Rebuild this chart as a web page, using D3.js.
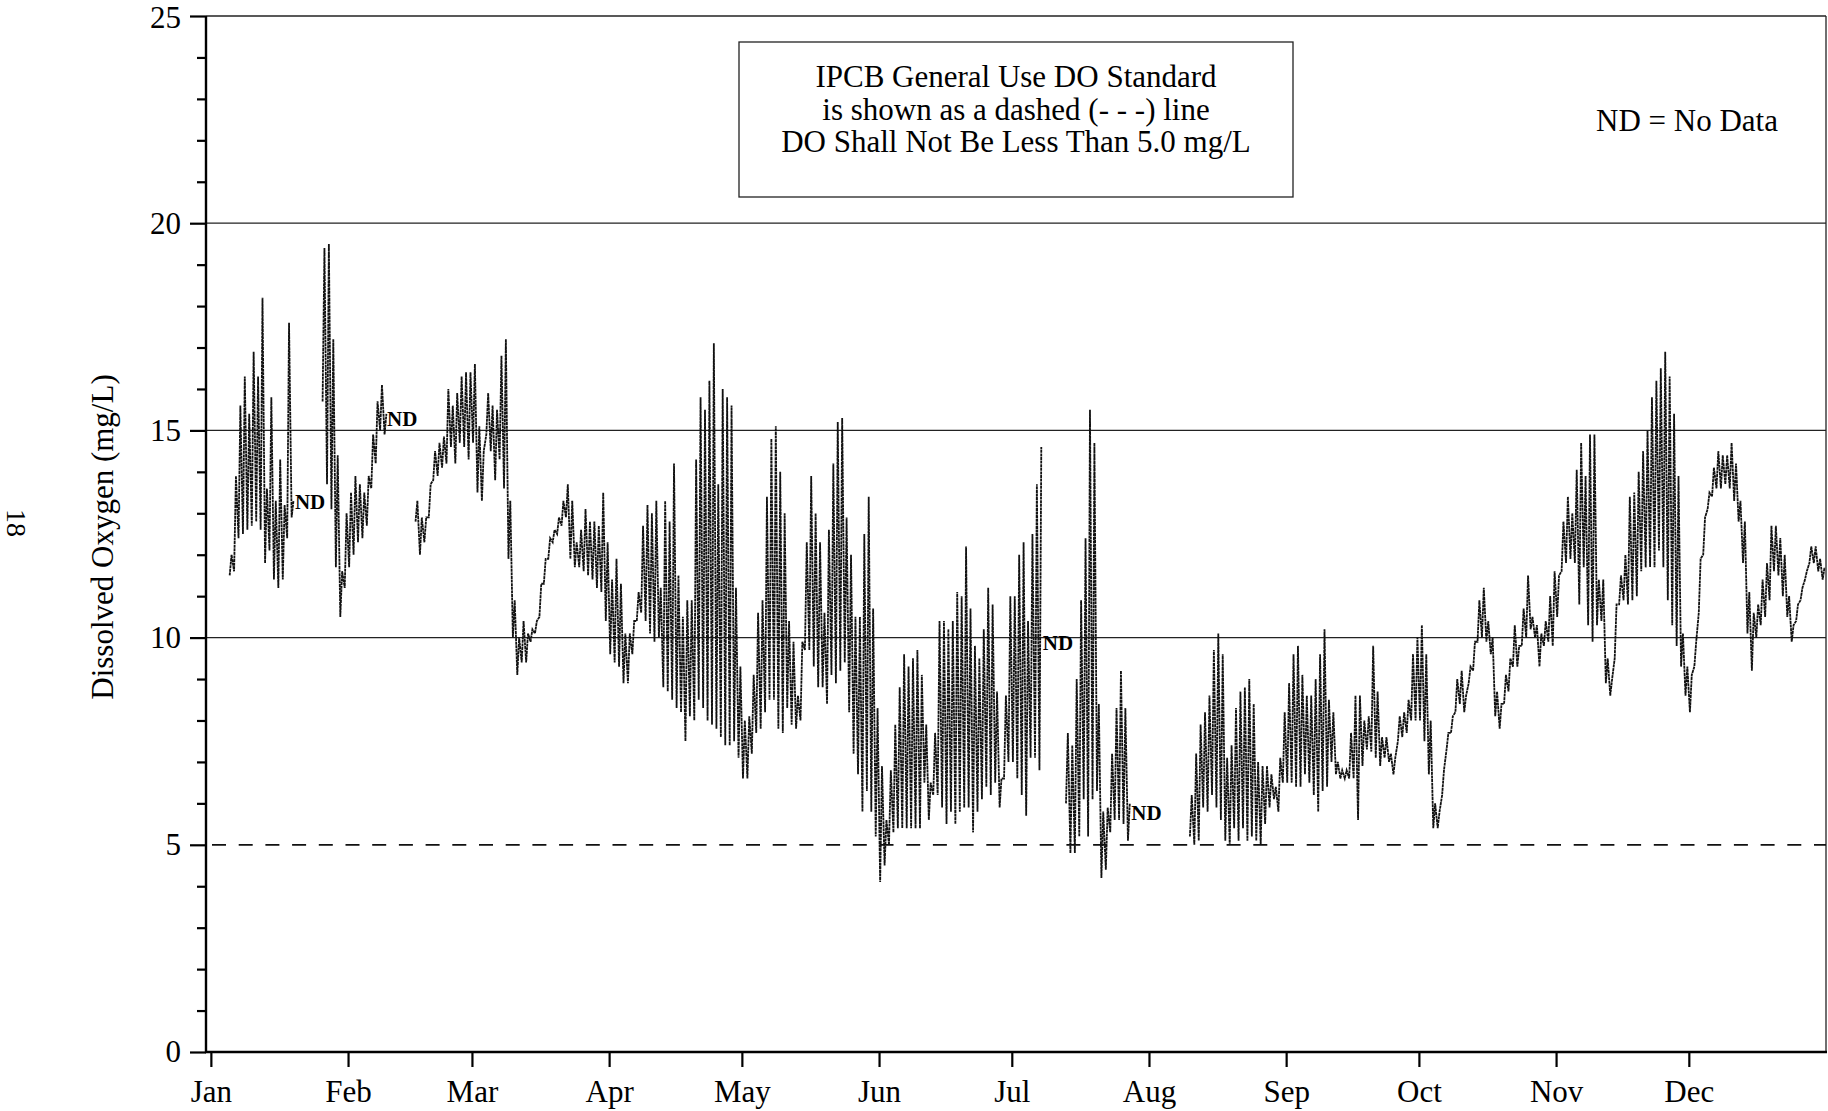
<!DOCTYPE html>
<html>
<head>
<meta charset="utf-8">
<script src="https://cdn.jsdelivr.net/npm/d3@7"></script>
<style>
  html, body { margin: 0; padding: 0; background: #fff; }
  svg { display: block; }
  text { font-family: "Liberation Serif", "Times New Roman", serif; fill: #000; }
</style>
</head>
<body>
<svg id="chart" width="1828" height="1111"></svg>
<script>
// ---- Data -------------------------------------------------------------
// Daily minimum and maximum dissolved oxygen (mg/L), one entry per day of
// the year starting Jan 1; null marks days with no data (ND).
const dailyMin = [
  // Jan
  null, null, null, null, 11.5, 11.6, 12.4, 12.5, 12.6, 12.7,
  12.8, 12.6, 11.8, 12.1, 11.4, 11.2, 11.4, 12.4, 12.9, null,
  null, null, null, null, null, 15.7, 13.7, 13.1, 11.7, 10.5, 11.2,
  // Feb
  11.7, 12.0, 12.3, 12.4, 12.7, 13.6, 14.2, 15.0, 14.9, null,
  null, null, null, null, null, 12.8, 12.0, 12.3, 12.9, 13.8,
  13.9, 14.1, 14.2, 14.6, 14.2, 14.7, 14.6, 14.3,
  // Mar
  14.7, 13.5, 13.3, 14.9, 14.5, 13.8, 14.3, 13.6, 11.9, 10.0,
  9.1, 9.4, 9.4, 9.9, 10.1, 10.5, 11.3, 11.9, 12.3, 12.5,
  12.7, 12.9, 11.9, 11.7, 11.7, 11.6, 11.5, 11.4, 11.2, 11.1, 10.4,
  // Apr
  9.6, 9.4, 9.3, 8.9, 8.9, 9.6, 10.4, 10.6, 10.4, 10.1,
  9.9, 10.0, 8.8, 8.7, 8.5, 8.3, 8.2, 7.5, 8.1, 8.0,
  8.5, 8.3, 8.0, 7.9, 7.8, 7.6, 7.4, 7.4, 7.5, 7.1,
  // May
  6.6, 6.6, 7.2, 7.7, 7.8, 8.2, 8.5, 8.5, 7.8, 7.7,
  8.3, 7.9, 7.8, 8.0, 9.7, 9.7, 9.3, 8.8, 8.8, 8.4,
  9.1, 8.9, 9.2, 9.4, 8.2, 7.2, 6.7, 5.8, 6.3, 5.8, 5.2,
  // Jun
  4.1, 4.5, 5.0, 5.3, 5.4, 5.4, 5.4, 5.4, 5.4, 5.4,
  6.5, 5.6, 6.2, 6.2, 5.9, 5.5, 5.8, 5.5, 5.8, 5.9,
  5.9, 5.3, 5.8, 6.1, 6.4, 6.2, 6.5, 5.9, 6.6, 7.0,
  // Jul
  7.0, 6.6, 6.2, 5.7, 7.1, 7.1, 6.8, null, null, null,
  null, null, 6.0, 4.8, 4.8, 5.2, 6.1, 5.2, 6.1, 6.3,
  4.2, 4.4, 5.3, 5.6, 5.6, 5.5, 5.1, null, null, null, null,
  // Aug
  null, null, null, null, null, null, null, null, null, 5.2,
  5.0, 5.1, 5.9, 5.8, 6.2, 5.9, 5.6, 5.1, 5.0, 5.4,
  5.1, 5.4, 5.1, 5.2, 5.1, 5.0, 5.5, 5.9, 6.1, 5.8, 6.5,
  // Sep
  6.5, 6.5, 6.4, 6.4, 6.7, 6.5, 6.2, 5.8, 6.3, 6.4,
  7.0, 6.7, 6.6, 6.6, 6.6, 6.6, 5.6, 6.9, 7.3, 7.25,
  7.1, 6.9, 7.1, 7.0, 6.7, 7.5, 7.6, 7.7, 8.0, 8.0,
  // Oct
  8.0, 7.5, 6.7, 5.4, 5.4, 6.2, 7.3, 7.7, 8.2, 8.4,
  8.2, 8.9, 9.2, 9.9, 10.0, 9.9, 9.6, 8.1, 7.8, 8.4,
  8.7, 9.3, 9.3, 9.8, 10.0, 10.2, 10.0, 9.3, 9.8, 9.9, 9.8,
  // Nov
  10.5, 11.6, 11.8, 11.9, 11.8, 10.8, 11.7, 10.3, 9.9, 10.3,
  10.4, 8.9, 8.6, 9.5, 10.8, 10.9, 10.8, 10.9, 11.0, 11.6,
  11.7, 11.7, 11.7, 12.1, 11.7, 10.9, 10.3, 9.8, 9.3, 8.6,
  // Dec
  8.2, 9.3, 10.6, 12.0, 13.1, 13.4, 13.6, 13.6, 13.7, 13.6,
  13.3, 12.8, 11.8, 10.1, 9.2, 10.0, 10.3, 10.5, 10.9, 11.6,
  11.5, 11.0, 10.5, 9.9, 10.4, 10.9, 11.4, 11.8, 11.8, 11.6, 11.4
];

const dailyMax = [
  // Jan
  null, null, null, null, 12.0, 13.9, 15.6, 16.3, 15.4, 16.9,
  16.3, 18.2, 13.6, 15.8, 13.3, 14.3, 13.2, 17.6, 13.3, null,
  null, null, null, null, null, 19.4, 19.5, 17.2, 14.4, 11.6, 13.0,
  // Feb
  13.5, 13.9, 13.7, 13.5, 13.9, 14.9, 15.7, 16.1, 15.4, null,
  null, null, null, null, null, 13.3, 12.9, 12.9, 13.7, 14.5,
  14.7, 14.85, 16.0, 15.6, 15.9, 16.3, 16.4, 16.4,
  // Mar
  16.6, 15.1, 14.5, 15.9, 15.6, 15.5, 16.8, 17.2, 13.3, 10.9,
  10.0, 10.4, 10.1, 10.2, 10.4, 11.3, 11.9, 12.4, 12.6, 12.9,
  13.3, 13.7, 13.3, 12.3, 12.6, 13.1, 12.8, 12.8, 12.7, 13.5, 12.3,
  // Apr
  11.4, 11.9, 11.3, 10.1, 10.1, 10.4, 11.1, 12.7, 13.2, 13.0,
  13.3, 11.2, 13.3, 12.8, 14.2, 11.5, 10.5, 10.9, 10.9, 14.3,
  15.8, 15.5, 16.2, 17.1, 13.7, 16.0, 15.8, 15.6, 11.2, 9.3,
  // May
  8.0, 8.1, 9.1, 10.6, 10.9, 13.4, 14.8, 15.1, 14.0, 13.0,
  10.4, 9.9, 8.6, 9.9, 12.3, 13.9, 13.0, 12.3, 10.6, 12.6,
  14.2, 15.2, 15.3, 12.9, 12.0, 10.5, 10.5, 12.5, 13.4, 10.7, 8.3,
  // Jun
  6.9, 5.6, 6.8, 7.9, 8.8, 9.6, 9.3, 9.5, 9.7, 9.1,
  7.9, 6.5, 7.7, 10.4, 10.4, 10.2, 10.4, 11.1, 11.0, 12.2,
  10.7, 9.8, 9.5, 10.2, 11.2, 10.8, 8.7, 6.6, 8.6, 11.0,
  // Jul
  11.0, 12.0, 12.3, 10.4, 12.5, 13.7, 14.6, null, null, null,
  null, null, 7.7, 7.4, 9.0, 10.9, 12.4, 15.5, 14.7, 8.4,
  5.8, 5.9, 7.2, 8.3, 9.2, 8.3, 6.0, null, null, null, null,
  // Aug
  null, null, null, null, null, null, null, null, null, 6.2,
  7.2, 7.9, 8.2, 8.6, 9.7, 10.1, 9.6, 7.1, 7.4, 8.3,
  8.7, 8.8, 9.0, 8.4, 7.0, 6.9, 6.9, 6.7, 6.4, 7.1, 8.2,
  // Sep
  8.9, 9.6, 9.8, 9.1, 8.6, 8.6, 9.0, 9.6, 10.2, 8.5,
  8.2, 7.0, 6.8, 6.8, 7.7, 8.6, 8.6, 8.0, 8.1, 9.8,
  8.7, 7.6, 7.6, 7.2, 7.1, 8.1, 8.2, 8.5, 9.6, 10.0,
  // Oct
  10.3, 9.6, 8.0, 6.0, 5.8, 6.8, 7.7, 8.1, 9.0, 9.2,
  8.6, 9.3, 9.9, 10.9, 11.2, 10.4, 10.0, 8.7, 8.4, 9.1,
  9.5, 10.3, 9.8, 10.7, 11.5, 10.5, 10.3, 10.1, 10.4, 11.0, 11.6,
  // Nov
  11.5, 12.8, 13.4, 13.0, 14.05, 14.7, 13.9, 14.9, 14.9, 11.4,
  11.4, 9.5, 9.0, 10.8, 11.5, 12.0, 13.4, 13.5, 14.0, 14.5,
  15.0, 15.8, 16.2, 16.5, 16.9, 16.3, 15.4, 13.9, 10.1, 9.3,
  // Dec
  9.1, 9.9, 11.9, 12.9, 13.5, 14.1, 14.5, 14.4, 14.4, 14.7,
  14.2, 13.3, 12.8, 11.1, 10.6, 10.8, 11.4, 11.8, 12.7, 12.7,
  12.4, 12.0, 11.0, 10.3, 10.8, 11.2, 11.6, 12.2, 12.2, 11.9, 11.7
];

const monthLabels = ["Jan", "Feb", "Mar", "Apr", "May", "Jun",
                     "Jul", "Aug", "Sep", "Oct", "Nov", "Dec"];
const yMajorTicks = [0, 5, 10, 15, 20, 25];
const yMinorTicks = [1, 2, 3, 4, 6, 7, 8, 9, 11, 12, 13, 14, 16, 17, 18, 19, 21, 22, 23, 24];
const gridValues = [10, 15, 20];
const doStandard = 5.0;

// "ND" markers: day of year (fractional) and DO level where each sits
const ndDays = [19.0, 39.8, 188.0, 208.0];
const ndLevels = [13.1, 15.1, 9.7, 5.6];

const noteLines = [
  "IPCB General Use DO Standard",
  "is shown as a dashed (- - -) line",
  "DO Shall Not Be Less Than 5.0 mg/L"
];

// ---- Scales -----------------------------------------------------------
const YEAR = 2007;
const dayToDate = (d, hour = 0) =>
  new Date(new Date(YEAR, 0, 1).getTime() + (d * 24 + hour) * 3600e3);

const plot = { left: 206, right: 1826, top: 16, bottom: 1052 };

const x = d3.scaleTime()
  .domain([new Date(YEAR - 1, 11, 30, 21, 36), new Date(YEAR + 1, 0, 1)])
  .range([plot.left, plot.right]);
const y = d3.scaleLinear().domain([0, 25]).range([plot.bottom, plot.top]);

const svg = d3.select("#chart");

// ---- Reference lines --------------------------------------------------
svg.append("g")
  .selectAll("line")
  .data(gridValues.concat([25]))
  .join("line")
  .attr("x1", plot.left).attr("x2", plot.right)
  .attr("y1", d => y(d)).attr("y2", d => y(d))
  .attr("stroke", "#222").attr("stroke-width", 1.3);

// right frame edge
svg.append("line")
  .attr("x1", plot.right).attr("x2", plot.right)
  .attr("y1", y(25)).attr("y2", y(0))
  .attr("stroke", "#222").attr("stroke-width", 1.3);

// DO standard (dashed)
svg.append("line")
  .attr("x1", plot.left).attr("x2", plot.right)
  .attr("y1", y(doStandard)).attr("y2", y(doStandard))
  .attr("stroke", "#111").attr("stroke-width", 1.7)
  .attr("stroke-dasharray", "14,12.7")
  .attr("stroke-dashoffset", 20.7);

// ---- Series -----------------------------------------------------------
// Each day: its low at dawn, its high in the afternoon.
const points = [];
dailyMin.forEach((lo, i) => {
  const hi = dailyMax[i];
  if (lo == null || hi == null) {
    points.push({ t: dayToDate(i, 12), v: null });
  } else {
    points.push({ t: dayToDate(i, 6), v: lo });
    points.push({ t: dayToDate(i, 16), v: hi });
  }
});

const line = d3.line()
  .defined(d => d.v != null)
  .x(d => x(d.t))
  .y(d => y(d.v));

svg.append("path")
  .datum(points)
  .attr("d", line)
  .attr("fill", "none")
  .attr("stroke", "#111")
  .attr("stroke-width", 1.8)
  .attr("stroke-dasharray", "3,0.6")
  .attr("stroke-linejoin", "miter");

// ---- Axes -------------------------------------------------------------
const yAxisMajor = d3.axisLeft(y)
  .tickValues(yMajorTicks)
  .tickSize(16)
  .tickPadding(9)
  .tickFormat(d3.format("d"));
const yAxisMinor = d3.axisLeft(y)
  .tickValues(yMinorTicks)
  .tickSize(9)
  .tickFormat("");

const gyMinor = svg.append("g").attr("transform", `translate(${plot.left},0)`).call(yAxisMinor);
const gyMajor = svg.append("g").attr("transform", `translate(${plot.left},0)`).call(yAxisMajor);

const monthDates = d3.timeMonth.range(new Date(YEAR, 0, 1), new Date(YEAR + 1, 0, 1));
const xAxis = d3.axisBottom(x)
  .tickValues(monthDates)
  .tickSize(15)
  .tickPadding(13)
  .tickFormat((d, i) => monthLabels[i]);
const gx = svg.append("g").attr("transform", `translate(0,${plot.bottom})`).call(xAxis);

[gyMinor, gyMajor, gx].forEach(g => {
  g.select(".domain").remove();
  g.selectAll(".tick line").attr("stroke", "#000").attr("stroke-width", 2.2);
  g.selectAll(".tick text")
    .attr("font-family", "Liberation Serif, Times New Roman, serif")
    .attr("font-size", 31)
    .attr("fill", "#000");
});
// keep the top label's glyphs inside the page
gyMajor.selectAll(".tick text").filter(d => d === 25).attr("dy", "0.36em");

// axis lines
svg.append("line")
  .attr("x1", plot.left).attr("x2", plot.left)
  .attr("y1", y(25)).attr("y2", y(0) + 1)
  .attr("stroke", "#000").attr("stroke-width", 2.4);
svg.append("line")
  .attr("x1", plot.left - 1).attr("x2", plot.right + 1)
  .attr("y1", y(0)).attr("y2", y(0))
  .attr("stroke", "#000").attr("stroke-width", 2.6);

// y-axis title
svg.append("text")
  .attr("transform", "translate(103,537) rotate(-90)")
  .attr("text-anchor", "middle")
  .attr("dy", "0.33em")
  .attr("font-size", 31)
  .text("Dissolved Oxygen (mg/L)");

// page number
svg.append("text")
  .attr("transform", "translate(17,523) rotate(90)")
  .attr("text-anchor", "middle")
  .attr("dy", "0.35em")
  .attr("font-size", 28)
  .text("18");

// ---- Annotations ------------------------------------------------------
svg.append("g")
  .selectAll("text")
  .data(ndDays)
  .join("text")
  .attr("x", d => x(dayToDate(d)))
  .attr("y", (d, i) => y(ndLevels[i]))
  .attr("font-size", 21)
  .attr("font-weight", "bold")
  .text("ND");

const note = svg.append("g");
note.append("rect")
  .attr("x", 739).attr("y", 42).attr("width", 554).attr("height", 155)
  .attr("fill", "#fff").attr("stroke", "#222").attr("stroke-width", 1.3);
note.selectAll("text")
  .data(noteLines)
  .join("text")
  .attr("x", 1016)
  .attr("y", (d, i) => 87 + i * 32.5)
  .attr("text-anchor", "middle")
  .attr("font-size", 31)
  .text(d => d);

svg.append("text")
  .attr("x", 1596).attr("y", 131)
  .attr("font-size", 31)
  .text("ND = No Data");
</script>
</body>
</html>
